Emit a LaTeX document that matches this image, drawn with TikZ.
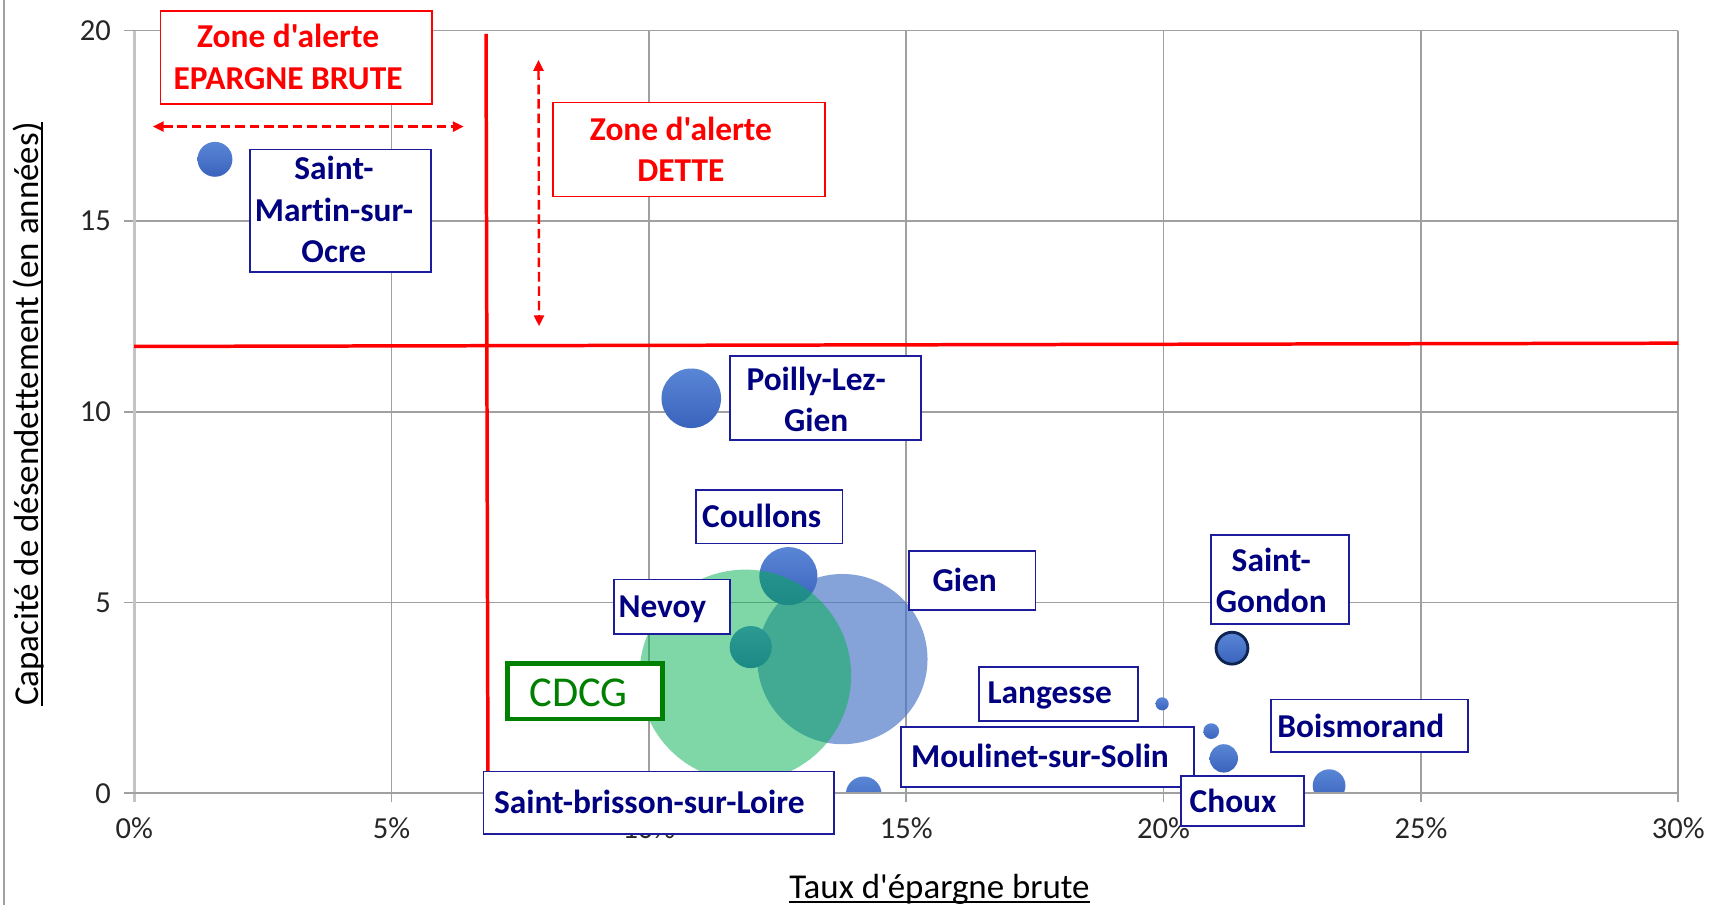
\documentclass[tikz,border=0pt]{standalone}
\usepackage{fontspec}
\newfontfamily\calfont{Carlito}[Ligatures={NoCommon}]
\usetikzlibrary{arrows.meta}
\definecolor{gridgray}{HTML}{A0A0A0}
\definecolor{axisgray}{HTML}{C4C4C4}
\definecolor{navytext}{HTML}{000080}
\definecolor{navyline}{HTML}{1C1C9C}
\definecolor{bubblue}{HTML}{4472C4}
\definecolor{bubtop}{HTML}{5A86D6}
\definecolor{bubbot}{HTML}{3A63BC}
\definecolor{cdcggreen}{HTML}{00B050}
\definecolor{boxgreen}{HTML}{008000}
\definecolor{ticktext}{HTML}{262626}
\definecolor{gondonring}{HTML}{0D2350}
\newcommand\ulin[1]{\setbox0\hbox{#1}\rlap{\rule[-2.1pt]{\wd0}{0.9pt}}\box0}
\begin{document}
\begin{tikzpicture}[x=0.5pt,y=-0.5pt,
  grid/.style={draw=gridgray, line width=0.75pt},
  ticklab/.style={font=\calfont\fontsize{14}{16}\selectfont, text=ticktext, inner sep=0pt},
  axtitle/.style={font=\calfont\fontsize{16}{19}\selectfont, text=black, inner sep=0pt},
  bub/.style={circle, inner sep=0pt, draw=none, top color=bubtop, bottom color=bubbot},
  boxn/.style={rectangle, draw=navyline, fill=white, line width=0.8pt, inner sep=0pt},
  boxr/.style={rectangle, draw=red, fill=white, line width=0.8pt, inner sep=0pt},
  lab/.style={font=\calfont\bfseries\fontsize{15.3}{19}\selectfont, text=navytext, align=center, inner sep=0pt},
  redlab/.style={lab, text=red},
  redline/.style={draw=red, line width=1.6pt},
  reddash/.style={draw=red, line width=1.1pt, dash pattern=on 4.4pt off 2.2pt,
    arrows={Triangle[length=5pt,width=4.6pt]-Triangle[length=5pt,width=4.6pt]}},
]
\useasboundingbox (0,0) rectangle (1568,829);
\fill[white] (0,0) rectangle (1568,829);
% chart frame left border
\draw[gridgray, line width=0.6pt] (3.7,0) -- (3.7,829);
% gridlines and ticks
\foreach \i in {0,...,6} {
  \draw[grid] ({123+235.833*\i},28) -- ({123+235.833*\i},735);
}
\foreach \j in {0,...,4} {
  \draw[grid] (114,{28+174.75*\j}) -- (1538,{28+174.75*\j});
}
% bubbles
\begin{scope}
\clip (123,28) rectangle (1538,727);
\node[bub, minimum size=16pt] (b-smo) at (197,146) {};
\node[bub, minimum size=27.3pt] (b-poi) at (633.5,365) {};
\node[circle, inner sep=0pt, fill=bubblue, fill opacity=0.65, minimum size=78pt] (b-gie) at (772,604) {};
\node[bub, minimum size=26.6pt] (b-cou) at (722.5,528) {};
\node[bub, minimum size=19.3pt] (b-nev) at (688,593) {};
\node[circle, inner sep=0pt, fill=cdcggreen, fill opacity=0.5, minimum size=97pt] (b-cdcg) at (683,619) {};
\node[bub, minimum size=16.4pt] (b-sbr) at (791.5,728) {};
\node[bub, draw=gondonring, line width=1.3pt, minimum size=14.6pt] (b-sgo) at (1129,594) {};
\node[bub, minimum size=6pt] (b-lan) at (1065,645) {};
\node[bub, minimum size=7.2pt] (b-mou) at (1110,670) {};
\node[bub, minimum size=13pt] (b-cho) at (1121.5,695) {};
\node[bub, minimum size=15pt] (b-boi) at (1218,720) {};
\end{scope}
% axes
\draw[axisgray, line width=1.2pt] (123,28) -- (123,735);
\draw[grid] (114,727) -- (1538,727);
% tick labels
\foreach \v/\yy in {20/28, 15/202.75, 10/377.5, 5/552.25, 0/727} {
  \node[ticklab, anchor=east] at (102,\yy) {\v};
}
\foreach \v/\i in {0/0, 5/1, 10/2, 15/3, 20/4, 25/5, 30/6} {
  \node[ticklab] at ({123+235.833*\i},759) {\v\%};
}
% red alert lines
\coordinate (hl-l) at (123,317.5);
\coordinate (hl-r) at (1538,314.5);
\draw[redline] (hl-l) -- (hl-r);
\coordinate (vl-t) at (445.4,31);
\coordinate (vl-b) at (447.2,722);
\draw[redline] (vl-t) -- (vl-b);
\coordinate (ha-l) at (140,116);
\coordinate (ha-r) at (425,116);
\draw[reddash] (ha-l) -- (ha-r);
\coordinate (va-t) at (493.5,55);
\coordinate (va-b) at (494,299);
\draw[reddash] (va-t) -- (va-b);
% red boxes
\node[boxr, minimum width=124.5pt, minimum height=42.5pt] (box-epa) at (271.5,52.5) {};
\node[redlab] (txt-epa) at (264,52) {Zone d'alerte\\EPARGNE BRUTE};
\node[boxr, minimum width=124.5pt, minimum height=43pt] (box-det) at (631.5,137) {};
\node[redlab] (txt-det) at (624,137) {Zone d'alerte\\DETTE};
% label boxes
\node[boxn, minimum width=83pt, minimum height=56pt] (box-smo) at (312,193) {};
\node[lab] (txt-smo) at (306,192) {Saint-\\Martin-sur-\\Ocre};
\node[boxn, minimum width=87.5pt, minimum height=38.5pt] (box-poi) at (756.5,364.5) {};
\node[lab] (txt-poi) at (748,366) {Poilly-Lez-\\Gien};
\node[boxn, minimum width=67pt, minimum height=24.5pt] (box-cou) at (705,473.5) {};
\node[lab] (txt-cou) at (698,473) {Coullons};
\node[boxn, minimum width=58pt, minimum height=27pt] (box-gie) at (891,532) {};
\node[lab] (txt-gie) at (884,531) {Gien};
\node[boxn, minimum width=53pt, minimum height=25pt] (box-nev) at (616,556) {};
\node[lab] (txt-nev) at (607,558) {Nevoy};
\node[boxn, minimum width=63pt, minimum height=41pt] (box-sgo) at (1173,531) {};
\node[lab] (txt-sgo) at (1165,532) {Saint-\\Gondon};
\node[boxn, minimum width=73pt, minimum height=25pt] (box-lan) at (970,636) {};
\node[lab] (txt-lan) at (962,637) {Langesse};
\node[boxn, minimum width=134pt, minimum height=27.5pt] (box-mou) at (960,693.5) {};
\node[lab] (txt-mou) at (953,693) {Moulinet-sur-Solin};
\node[boxn, minimum width=90pt, minimum height=24pt] (box-boi) at (1255,665) {};
\node[lab] (txt-boi) at (1247,665) {Boismorand};
\node[boxn, minimum width=56.5pt, minimum height=23pt] (box-cho) at (1138.5,734) {};
\node[lab] (txt-cho) at (1130,734) {Choux};
\node[boxn, minimum width=160.5pt, minimum height=28.5pt] (box-sbr) at (603.5,735.5) {};
\node[lab] (txt-sbr) at (595,735) {Saint-brisson-sur-Loire};
% CDCG box
\node[rectangle, draw=boxgreen, fill=white, line width=2pt, inner sep=0pt, minimum width=71pt, minimum height=25.5pt] (box-cdcg) at (536,633.5) {};
\node[font=\calfont\fontsize{19.5}{22}\selectfont, text=boxgreen, inner sep=0pt] (txt-cdcg) at (530,635) {CDCG};
% axis titles
\node[axtitle, anchor=base] (xtitle) at (861,823) {\ulin{Taux d'épargne brute}};
\node[axtitle, anchor=base, rotate=90] (ytitle) at (35.5,379.5) {\ulin{Capacité de désendettement (en années)}};
\end{tikzpicture}
\end{document}
